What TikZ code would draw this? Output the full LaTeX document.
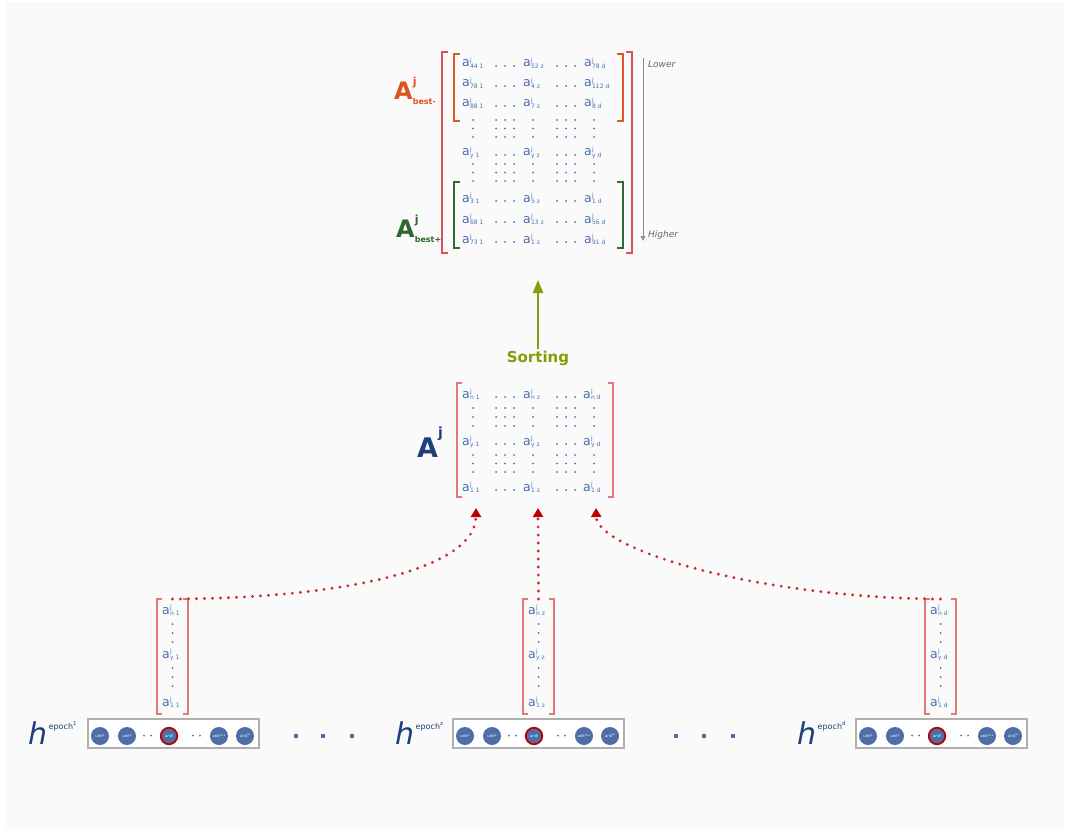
\documentclass[tikz,border=0pt]{standalone}
\usepackage{fontspec}
\setmainfont{DejaVu Sans}
\usetikzlibrary{arrows.meta}
\definecolor{bggray}{HTML}{FAFAFA}
\definecolor{elblue}{HTML}{4B6FAD}
\definecolor{darkblue}{HTML}{1E3F7A}
\definecolor{bestminus}{HTML}{D9541E}
\definecolor{bestplus}{HTML}{2D682D}
\definecolor{outerred}{HTML}{E05050}
\definecolor{innerorange}{HTML}{E0561E}
\definecolor{innergreen}{HTML}{2F6B35}
\definecolor{vecred}{HTML}{E27878}
\definecolor{olivegreen}{HTML}{8A9A08}
\definecolor{dotred}{HTML}{D02A2A}
\definecolor{tipred}{HTML}{C00000}
\definecolor{unitblue}{HTML}{4F6EA8}
\definecolor{ringred}{HTML}{B80000}
\definecolor{boxgray}{HTML}{B0B0B0}
\definecolor{sidegray}{HTML}{8C8C8C}
\definecolor{sidetext}{HTML}{666666}

\newcommand{\aent}[1]{a\kern0.3pt\rlap{\raisebox{4.8pt}{\fontsize{6}{6}\selectfont j}}\raisebox{-1.3pt}{\fontsize{6}{6}\selectfont #1}}
\newcommand{\ulab}[1]{unit\raisebox{1.6pt}{\fontsize{2.8}{2.8}\selectfont #1}}
\newcommand{\hlab}[1]{\textit{h}\kern1.5pt\raisebox{15pt}{\fontsize{8}{8}\selectfont epoch\raisebox{3.5pt}{\fontsize{5.5}{5.5}\selectfont #1}}}
\newcommand{\mybrackets}[4]{%
  \draw[#2, line width=#3] ([xshift=#4]#1.north west) -- (#1.north west) -- (#1.south west) -- ([xshift=#4]#1.south west);
  \draw[#2, line width=#3] ([xshift=-#4]#1.north east) -- (#1.north east) -- (#1.south east) -- ([xshift=-#4]#1.south east);}
\newcommand{\gridrows}[1]{\foreach \yy in {#1}{\foreach \xx in {473,496,505,514,533,557,566,575,594}{\fill[elblue] (\xx,\yy) circle (1pt);}}}
\newcommand{\rowdots}[1]{\foreach \xx in {496,505,514,557,566,575}{\fill[elblue] (\xx,#1) circle (1pt);}}

\begin{document}
\begin{tikzpicture}[x=1pt,y=-1pt,
  el/.style={inner sep=0pt, anchor=base west, text=elblue, font=\fontsize{12.5}{14}\selectfont},
  frame/.style={inner sep=0pt, outer sep=0pt, anchor=north west},
  dotline/.style={dotred, line width=3.2pt, line cap=round, dash pattern=on 0pt off 8pt,
    -{Triangle[width=10pt,length=9pt,color=tipred]}},
  unit/.style={circle, fill=unitblue, minimum size=18pt, inner sep=0pt, text=white, font=\fontsize{3.8}{4}\selectfont},
  unitj/.style={unit, draw=ringred, line width=1.8pt, minimum size=16.5pt},
  hbox/.style={frame, draw=boxgray, fill=white, line width=1.6pt, minimum width=171pt, minimum height=29pt},
  hname/.style={inner sep=0pt, anchor=base west, text=darkblue, font=\fontsize{30}{30}\selectfont},
  side/.style={inner sep=0pt, anchor=west, text=sidetext, font=\fontsize{9}{10}\selectfont\itshape}
]
\useasboundingbox (0,0) rectangle (1068,832);
\fill[white] (0,0) rectangle (1068,832);
\fill[bggray] (6,2) rectangle (1064,829);

% ---------- top sorted matrix ----------
\node[frame, minimum width=190pt, minimum height=201pt] (Abig) at (442,52) {};
\node[frame, minimum width=169pt, minimum height=67pt] (Aminus) at (454,54) {};
\node[frame, minimum width=169pt, minimum height=66pt] (Aplus) at (454,182) {};
\mybrackets{Abig}{outerred}{1.5pt}{6pt}
\mybrackets{Aminus}{innerorange}{1.5pt}{6pt}
\mybrackets{Aplus}{innergreen}{1.5pt}{6pt}

\foreach \yy/\r/\sa/\sb/\sc in {67/1/{44 1}/{52 z}/{78 d}, 87/2/{78 1}/{4 z}/{112 d}, 107/3/{88 1}/{7 z}/{8 d},
  156/4/{y 1}/{y z}/{y d}, 202/5/{3 1}/{5 z}/{1 d}, 223/6/{68 1}/{13 z}/{56 d}, 243/7/{73 1}/{1 z}/{91 d}}{
  \node[el] (T\r a) at (462,\yy) {\aent{\sa}};
  \node[el] (T\r b) at (523,\yy) {\aent{\sb}};
  \node[el] (T\r c) at (584,\yy) {\aent{\sc}};
  \rowdots{\yy-1}
}
\gridrows{120,128.5,137,164,172.5,181}

\node[inner sep=0pt, anchor=base west, text=bestminus, font=\bfseries] (labminus) at (394,100)
  {\fontsize{24}{24}\selectfont A\rlap{\raisebox{14pt}{\fontsize{11}{11}\selectfont j}}\raisebox{-5pt}{\fontsize{8}{8}\selectfont best-}};
\node[inner sep=0pt, anchor=base west, text=bestplus, font=\bfseries] (labplus) at (396,237)
  {\fontsize{24}{24}\selectfont A\rlap{\raisebox{14pt}{\fontsize{11}{11}\selectfont j}}\raisebox{-5pt}{\fontsize{8}{8}\selectfont best+}};

\coordinate (low) at (643,58);
\coordinate (high) at (643,241);
\draw[sidegray, line width=1pt, -{Triangle[width=4.5pt,length=5pt]}] (low) -- (high);
\node[side] (lower) at (648,64) {Lower};
\node[side] (higher) at (648,235) {Higher};

% ---------- sorting arrow ----------
\node[inner sep=1pt, text=olivegreen, font=\fontsize{15}{15}\selectfont\bfseries] (sort) at (538,358) {Sorting};
\coordinate (sorttip) at (538,280);
\draw[olivegreen, line width=2pt, -{Triangle[width=10pt,length=13pt]}] (sort.north) -- (sorttip);

% ---------- middle matrix ----------
\node[frame, minimum width=156pt, minimum height=114pt] (Aj) at (457,383) {};
\mybrackets{Aj}{vecred}{1.4pt}{5pt}
\foreach \yy/\r/\s in {398/1/n, 445/2/y, 491/3/1}{
  \node[el] (M\r a) at (462,\yy) {\aent{\s{} 1}};
  \node[el] (M\r b) at (523,\yy) {\aent{\s{} z}};
  \node[el] (M\r c) at (583,\yy) {\aent{\s{} d}};
  \rowdots{\yy-1}
}
\gridrows{408,417,426,455,463.5,472}
\node[inner sep=0pt, anchor=base west, text=darkblue, font=\bfseries] (labAj) at (417,457)
  {\fontsize{27}{27}\selectfont A\raisebox{20pt}{\fontsize{14}{14}\selectfont j}};

% ---------- column vectors ----------
\foreach \vx/\n/\s in {157/1/1, 523/2/z, 925/3/d}{
  \node[frame, minimum width=31pt, minimum height=115pt] (v\n) at (\vx,599) {};
  \mybrackets{v\n}{vecred}{1.4pt}{5pt}
  \node[el] (v\n a) at (\vx+5,614) {\aent{n \s}};
  \node[el] (v\n b) at (\vx+5,658) {\aent{y \s}};
  \node[el] (v\n c) at (\vx+5,706) {\aent{1 \s}};
  \foreach \yy in {624,633,642,668,677,686}{\fill[elblue] (\vx+15.5,\yy) circle (1pt);}
}

% ---------- connectors ----------
\coordinate (t1) at (476,508);
\coordinate (t2) at (538,508);
\coordinate (t3) at (596,508);
\draw[dotline] (v1.north) .. controls (360,598) and (476,565) .. (t1);
\draw[dotline] (v2.north) -- (t2);
\draw[dotline] (v3.north) .. controls (760,598) and (597,550) .. (t3);

% ---------- hidden state boxes ----------
\foreach \bx/\bn/\lab in {88/1/1, 453/2/z, 856/3/d}{
  \node[hbox] (hb\bn) at (\bx,719) {};
  \node[unit] (u\bn a) at (\bx+12,736) {\ulab{1}};
  \node[unit] (u\bn b) at (\bx+39,736) {\ulab{2}};
  \node[unitj] (u\bn c) at (\bx+81,736) {\ulab{j}};
  \node[unit] (u\bn d) at (\bx+131,736) {\ulab{m-1}};
  \node[unit] (u\bn e) at (\bx+157,736) {\ulab{m}};
  \foreach \dx in {56,63,105,112}{\fill[elblue] (\bx+\dx,735.5) circle (1pt);}
}
\node[hname] (h1) at (28,744) {\hlab{1}};
\node[hname] (h2) at (395,744) {\hlab{z}};
\node[hname] (h3) at (797,744) {\hlab{d}};

\foreach \sx in {296,323,352,676,704,733}{\fill[unitblue] (\sx-2.3,733.5) rectangle (\sx+2.3,738.1);}
\end{tikzpicture}
\end{document}
